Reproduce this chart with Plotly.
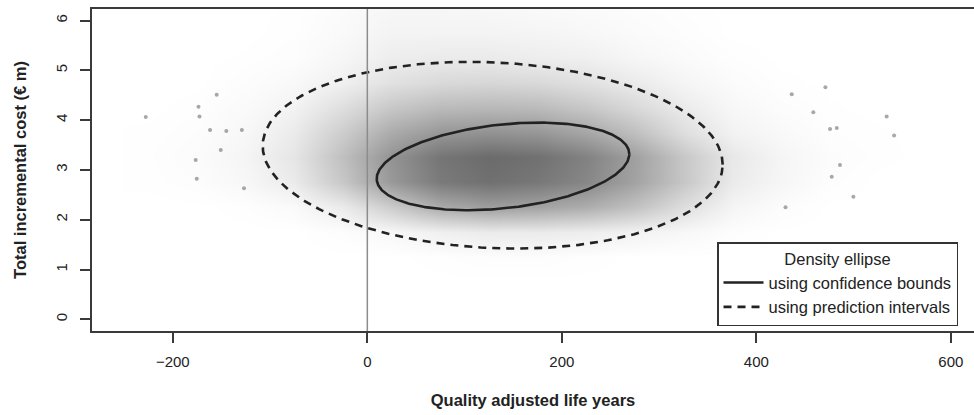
import numpy as np
import plotly.graph_objects as go

# ---------------- data ----------------
# Density of the simulated point cloud (darkness 0..1), read per 50-QALY x 0.5 M€ cell
grid_x = [-225, -175, -125, -75, -25, 25, 75, 125, 175, 225, 275, 325, 375, 425, 475, 525, 575]
grid_y = [0.25, 0.75, 1.25, 1.75, 2.25, 2.75, 3.25, 3.75, 4.25, 4.75, 5.25, 5.75, 6.25]
cloud_density = [
    [0, 0, 0, 0, 0, 0, 0, 0, 0, 0, 0, 0, 0, 0, 0, 0, 0],
    [0, 0, 0, 0, 0, 0, 0, 0, 0, 0, 0, 0, 0, 0, 0, 0, 0],
    [0, 0, 0, 0, 0, 0, 0.005, 0.01, 0.01, 0.005, 0, 0, 0, 0, 0, 0, 0],
    [0, 0, 0, 0, 0.01, 0.03, 0.06, 0.08, 0.08, 0.07, 0.05, 0.03, 0.008, 0, 0, 0, 0],
    [0, 0, 0.005, 0.02, 0.08, 0.20, 0.33, 0.38, 0.36, 0.32, 0.24, 0.13, 0.04, 0.012, 0, 0, 0],
    [0.003, 0.01, 0.03, 0.08, 0.22, 0.40, 0.52, 0.56, 0.53, 0.47, 0.36, 0.22, 0.08, 0.035, 0.008, 0, 0],
    [0.005, 0.015, 0.04, 0.10, 0.25, 0.42, 0.54, 0.58, 0.56, 0.49, 0.37, 0.22, 0.09, 0.04, 0.012, 0.004, 0],
    [0.003, 0.01, 0.03, 0.08, 0.20, 0.33, 0.41, 0.43, 0.41, 0.35, 0.25, 0.13, 0.05, 0.025, 0.006, 0.003, 0],
    [0, 0.005, 0.02, 0.05, 0.13, 0.22, 0.27, 0.28, 0.27, 0.22, 0.15, 0.08, 0.03, 0.012, 0.003, 0, 0],
    [0, 0, 0.01, 0.025, 0.06, 0.12, 0.15, 0.16, 0.15, 0.12, 0.08, 0.04, 0.015, 0.004, 0, 0, 0],
    [0, 0, 0.003, 0.01, 0.035, 0.07, 0.08, 0.08, 0.07, 0.06, 0.035, 0.018, 0.006, 0, 0, 0, 0],
    [0, 0, 0, 0.005, 0.022, 0.045, 0.045, 0.045, 0.04, 0.03, 0.018, 0.009, 0, 0, 0, 0, 0],
    [0, 0, 0, 0.003, 0.016, 0.033, 0.033, 0.028, 0.022, 0.017, 0.011, 0.005, 0, 0, 0, 0, 0],
]

# Individually visible outlying simulations
outlier_qaly = [-227.8, -176.5, -175.4, -173.6, -172.6, -154.9, -161.7, -150.7, -126.8, -129.0, -145.0,
                534.0, 541.6, 499.8, 471.0, 486.0, 477.5, 430.0, 482.7, 475.8, 458.6, 436.4]
outlier_cost = [4.06, 3.20, 2.82, 4.27, 4.07, 4.51, 3.80, 3.40, 2.63, 3.80, 3.78,
                4.07, 3.69, 2.46, 4.66, 3.10, 2.86, 2.25, 3.84, 3.82, 4.16, 4.52]

# Density ellipses: centre, half extents and x-y coupling (cos of phase shift)
ellipse_names = ["using confidence bounds", "using prediction intervals"]
ellipse_cx = [139.5, 128.9]
ellipse_cy = [3.07, 3.295]
ellipse_hx = [129.85, 236.5]
ellipse_hy = [0.88, 1.875]
ellipse_cos = [0.28, -0.10]
ellipse_dash = ["solid", "8px,6px"]

x_ticks = [-200, 0, 200, 400, 600]
x_tick_labels = ["\u2212200", "0", "200", "400", "600"]
y_ticks = [0, 1, 2, 3, 4, 5, 6]

# ---------------- figure ----------------
FONT = "Liberation Sans, Arial, Helvetica, sans-serif"
fig = go.Figure()

fig.add_trace(go.Heatmap(
    x=grid_x, y=grid_y, z=cloud_density, zmin=0, zmax=1, zsmooth="best",
    colorscale=[[0, "rgb(255,255,255)"], [1, "rgb(0,0,0)"]],
    showscale=False, hoverinfo="skip", showlegend=False))

fig.add_trace(go.Scatter(
    x=outlier_qaly, y=outlier_cost, mode="markers",
    marker=dict(size=4, color="rgba(110,110,110,0.6)", line=dict(width=0)),
    showlegend=False, hoverinfo="skip"))

t = np.linspace(0, 2 * np.pi, 361)
for name, cx, cy, hx, hy, c, dash in zip(ellipse_names, ellipse_cx, ellipse_cy, ellipse_hx,
                                         ellipse_hy, ellipse_cos, ellipse_dash):
    d = np.arccos(c)
    fig.add_trace(go.Scatter(
        x=cx + hx * np.cos(t), y=cy + hy * np.cos(t - d), mode="lines", name=name,
        line=dict(color="#222222", width=2.6, dash=dash)))

fig.add_shape(type="line", x0=0, x1=0, xref="x", y0=0, y1=1, yref="paper",
              line=dict(color="#8c8c8c", width=1.5), layer="above")

fig.update_layout(
    width=974, height=415,
    margin=dict(l=92, r=0, t=9, b=84),
    paper_bgcolor="white", plot_bgcolor="white",
    font=dict(family=FONT, size=15, color="#222222"),
    xaxis=dict(range=[-283.1, 623.8], tickvals=x_ticks, ticktext=x_tick_labels,
               ticks="outside", ticklen=10, tickwidth=1.5, tickcolor="#3a3a3a",
               showline=True, linecolor="#3a3a3a", linewidth=1.5, mirror=True,
               showgrid=False, zeroline=False, ticklabelstandoff=6,
               title=dict(text="<b>Quality adjusted life years</b>", font=dict(size=16.5), standoff=26)),
    yaxis=dict(range=[-0.235, 6.231], tickvals=y_ticks, tickangle=-90,
               ticks="outside", ticklen=10, tickwidth=1.5, tickcolor="#3a3a3a",
               showline=True, linecolor="#3a3a3a", linewidth=1.5, mirror=False,
               showgrid=False, zeroline=False, ticklabelstandoff=7,
               title=dict(text="<b>Total incremental cost (\u20ac m)</b>", font=dict(size=16.5), standoff=22)),
    legend=dict(x=(958 - 92) / 882, xanchor="right", y=(330.7 - 326) / 321.4, yanchor="bottom",
                bordercolor="#333333", borderwidth=1.5, bgcolor="white",
                font=dict(size=16.5, family=FONT, color="#222222"),
                title=dict(text="Density ellipse", side="top center", font=dict(size=16.5)),
                itemwidth=40, tracegroupgap=0),
)

fig.write_html("out.html", config={"displayModeBar": False},
               post_script="document.body.style.margin='0px';document.body.style.padding='0px';")
